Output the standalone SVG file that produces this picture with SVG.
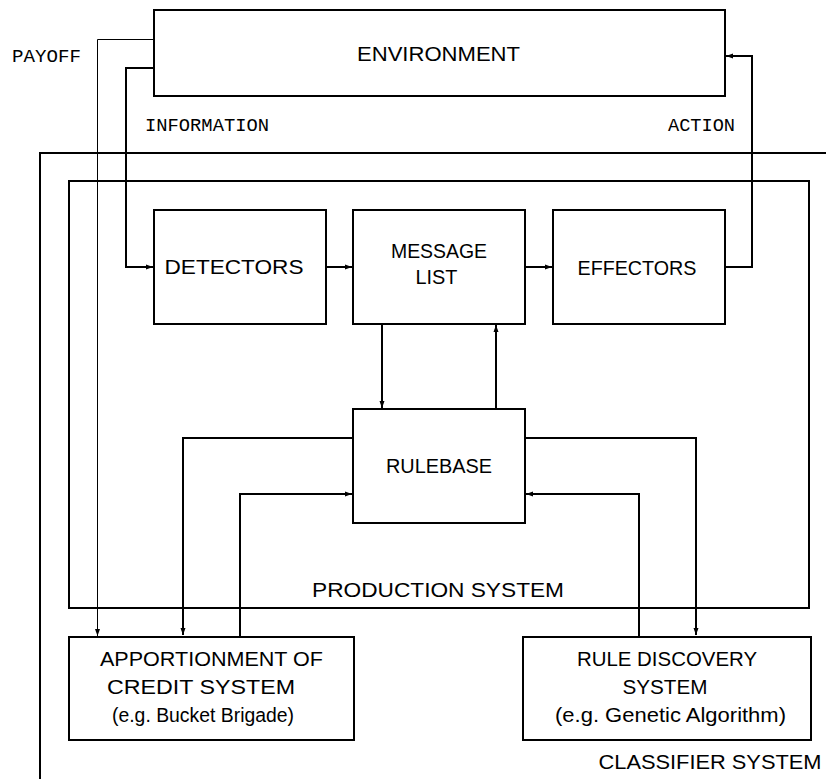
<svg xmlns="http://www.w3.org/2000/svg" width="826" height="779" viewBox="0 0 826 779">
  <style>
    .box { fill: #fff; stroke: #000; stroke-width: 2; }
    .frame { fill: none; stroke: #000; stroke-width: 2; }
    .link { fill: none; stroke: #000; stroke-width: 2; marker-end: url(#arrow); }
    .thin { fill: none; stroke: #000; stroke-width: 1; marker-end: url(#arrow); }
    .plain { fill: none; stroke: #000; stroke-width: 2; }
    .lbl { font-family: "Liberation Sans", Arial, sans-serif; font-size: 20.5px; fill: #000; text-anchor: middle; }
    .tt { font-family: "Liberation Mono", "Courier New", monospace; font-size: 18px; fill: #000; }
  </style>
  <defs>
    <marker id="arrow" markerUnits="userSpaceOnUse" markerWidth="8" markerHeight="6" refX="7" refY="3" orient="auto">
      <path d="M0,0.5 L7,3 L0,5.5 Z" fill="#000"/>
    </marker>
  </defs>
  <rect width="826" height="779" fill="#fff"/>

  <!-- classifier system boundary -->
  <g id="classifier-system">
    <path class="plain" d="M826,153 H40 V779"/>
    <text class="lbl" x="710" y="769" textLength="223" lengthAdjust="spacingAndGlyphs">CLASSIFIER SYSTEM</text>
  </g>

  <!-- production system boundary -->
  <g id="production-system">
    <rect class="frame" x="69" y="181" width="740" height="427"/>
    <text class="lbl" x="438" y="597" textLength="252" lengthAdjust="spacingAndGlyphs">PRODUCTION SYSTEM</text>
  </g>

  <g id="connectors">
    <!-- payoff -->
    <path class="thin" d="M154,39.5 H97.5 V636"/>
    <!-- information -->
    <path class="link" d="M154,68 H126 V267 H153"/>
    <path class="link" d="M326,267 H352"/>
    <path class="link" d="M525,267 H552"/>
    <!-- action -->
    <path class="link" d="M725,267 H752 V56 H726"/>
    <path class="link" d="M382,324 V408"/>
    <path class="link" d="M496,409 V325"/>
    <path class="link" d="M353,438 H183 V635"/>
    <path class="link" d="M240,636 V494 H352"/>
    <path class="link" d="M525,438 H696 V635"/>
    <path class="link" d="M639,636 V494 H526"/>
    <text class="tt" x="12" y="62" textLength="69" lengthAdjust="spacingAndGlyphs">PAYOFF</text>
    <text class="tt" x="145" y="131" textLength="124" lengthAdjust="spacingAndGlyphs">INFORMATION</text>
    <text class="tt" x="668" y="131" textLength="67" lengthAdjust="spacingAndGlyphs">ACTION</text>
  </g>

  <g id="environment">
    <rect class="box" x="154" y="10" width="571" height="86"/>
    <text class="lbl" x="438.5" y="61" textLength="163" lengthAdjust="spacingAndGlyphs">ENVIRONMENT</text>
  </g>

  <g id="detectors">
    <rect class="box" x="154" y="210" width="172" height="114"/>
    <text class="lbl" x="234" y="274" textLength="139" lengthAdjust="spacingAndGlyphs">DETECTORS</text>
  </g>

  <g id="message-list">
    <rect class="box" x="353" y="210" width="172" height="114"/>
    <text class="lbl" x="439" y="258" textLength="96" lengthAdjust="spacingAndGlyphs">MESSAGE</text>
    <text class="lbl" x="436.5" y="284" textLength="42" lengthAdjust="spacingAndGlyphs">LIST</text>
  </g>

  <g id="effectors">
    <rect class="box" x="553" y="210" width="172" height="114"/>
    <text class="lbl" x="637" y="275" textLength="119" lengthAdjust="spacingAndGlyphs">EFFECTORS</text>
  </g>

  <g id="rulebase">
    <rect class="box" x="353" y="409" width="172" height="114"/>
    <text class="lbl" x="439" y="473" textLength="106" lengthAdjust="spacingAndGlyphs">RULEBASE</text>
  </g>

  <g id="apportionment">
    <rect class="box" x="69" y="637" width="285" height="103"/>
    <text class="lbl" x="211.5" y="666" textLength="223" lengthAdjust="spacingAndGlyphs">APPORTIONMENT OF</text>
    <text class="lbl" x="201" y="694" textLength="188" lengthAdjust="spacingAndGlyphs">CREDIT SYSTEM</text>
    <text class="lbl" x="203" y="722" textLength="182" lengthAdjust="spacingAndGlyphs">(e.g. Bucket Brigade)</text>
  </g>

  <g id="rule-discovery">
    <rect class="box" x="523" y="637" width="288" height="103"/>
    <text class="lbl" x="667" y="666" textLength="180" lengthAdjust="spacingAndGlyphs">RULE DISCOVERY</text>
    <text class="lbl" x="665" y="694" textLength="85" lengthAdjust="spacingAndGlyphs">SYSTEM</text>
    <text class="lbl" x="670.5" y="722" textLength="231" lengthAdjust="spacingAndGlyphs">(e.g. Genetic Algorithm)</text>
  </g>
</svg>
